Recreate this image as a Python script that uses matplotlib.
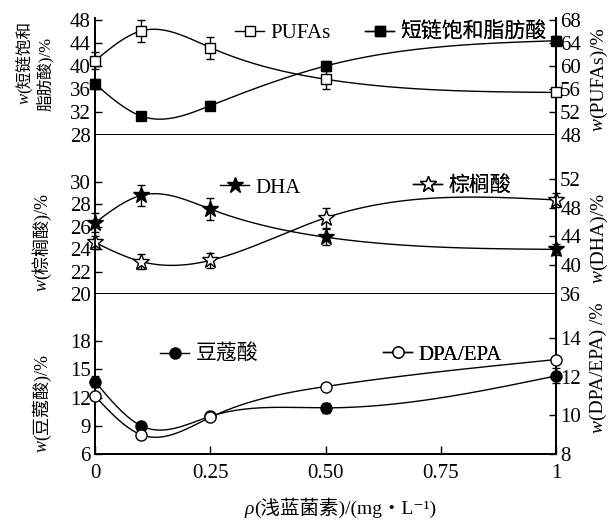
import numpy as np
import matplotlib
matplotlib.use("Agg")
import matplotlib.pyplot as plt
from matplotlib.lines import Line2D

plt.rcParams['font.family'] = ['Liberation Serif', 'Noto Sans CJK SC', 'DejaVu Serif']

# concentration of phycocyanin, mg/L
conc = [0, 0.1, 0.25, 0.5, 1]

# top panel
pufa = [60.9, 66.1, 63.2, 57.7, 55.4]
pufa_err = [1.5, 1.9, 1.9, 1.7, 0.5]
scfa = [36.9, 31.3, 33.1, 40.0, 44.4]
scfa_err = [0.9, 0.7, 0.8, 0.8, 0.8]

# middle panel
dha = [45.9, 49.7, 47.8, 43.9, 42.2]
dha_err = [1.3, 1.5, 1.5, 1.1, 0.8]
palm = [24.6, 22.9, 23.0, 26.8, 28.4]
palm_err = [0.6, 0.7, 0.7, 0.9, 0.6]

# bottom panel
myr = [13.7, 9.0, 10.0, 10.9, 14.3]
myr_err = [0.6, 0.4, 0.3, 0.5, 0.8]
dpa = [11.0, 9.0, 9.9, 11.5, 12.9]
dpa_err = [0.15, 0.15, 0.15, 0.15, 0.15]

xticks = [0, 0.25, 0.5, 0.75, 1]
xticklabels = ['0', '0.25', '0.50', '0.75', '1']

W, H = 611, 522


def spline(x, y, n=300):
    # natural cubic spline for the smooth connecting curves
    x = np.asarray(x, float)
    y = np.asarray(y, float)
    m = len(x)
    h = np.diff(x)
    A = np.zeros((m, m))
    r = np.zeros(m)
    A[0, 0] = A[-1, -1] = 1
    for i in range(1, m - 1):
        A[i, i - 1] = h[i - 1]
        A[i, i] = 2 * (h[i - 1] + h[i])
        A[i, i + 1] = h[i]
        r[i] = 3 * ((y[i + 1] - y[i]) / h[i] - (y[i] - y[i - 1]) / h[i - 1])
    c = np.linalg.solve(A, r)
    xs = np.linspace(x[0], x[-1], n)
    idx = np.clip(np.searchsorted(x, xs) - 1, 0, m - 2)
    dx = xs - x[idx]
    b = (y[idx + 1] - y[idx]) / h[idx] - h[idx] * (2 * c[idx] + c[idx + 1]) / 3
    d = (c[idx + 1] - c[idx]) / (3 * h[idx])
    return xs, y[idx] + b * dx + c[idx] * dx ** 2 + d * dx ** 3


def series(ax, y, err, marker, face, ms):
    xs, ys = spline(conc, y)
    ax.plot(xs, ys, color='black', lw=1.0, clip_on=False)
    ax.errorbar(conc, y, yerr=err, fmt='none', ecolor='black', elinewidth=1.0,
                capsize=3, capthick=1.0, clip_on=False)
    ax.plot(conc, y, ls='none', marker=marker, ms=ms, mfc=face, mec='black',
            mew=1.0, clip_on=False, zorder=5)


def legend_item(ax, label, marker, face, ms, x_px, y_px):
    h = Line2D([], [], color='black', lw=1.0, marker=marker, ms=ms, mfc=face,
               mec='black', mew=1.0)
    leg = ax.legend(handles=[h], labels=[label], loc='center left',
                    bbox_to_anchor=(x_px / W, 1 - y_px / H),
                    bbox_transform=fig.transFigure, frameon=False,
                    handlelength=1.4, handletextpad=0.3, borderpad=0,
                    borderaxespad=0, prop={'size': 15})
    ax.add_artist(leg)


def wlabel(x_px, y_px, rest, sym='w', rot=90, size=13):
    # italic symbol ending at the anchor, plain text starting from it
    x, y = x_px / W, 1 - y_px / H
    fig.text(x, y, sym, rotation=rot, rotation_mode='anchor', ha='right',
             va='baseline', style='italic', fontsize=size)
    fig.text(x, y, rest, rotation=rot, rotation_mode='anchor', ha='left',
             va='baseline', fontsize=size)


fig = plt.figure(figsize=(W / 100, H / 100), dpi=100)

left, right = 95 / W, 556 / W
panels = [(18, 135), (135, 294), (294, 454)]
axes = []
for t, b in panels:
    ax = fig.add_axes([left, 1 - b / H, right - left, (b - t) / H])
    ax2 = ax.twinx()
    for a in (ax, ax2):
        a.spines['top'].set_visible(False)
        for s in ('left', 'right', 'bottom'):
            a.spines[s].set_linewidth(1.3)
        a.set_xlim(0, 1)
        a.tick_params(axis='y', direction='in', length=5, width=1.0,
                      labelsize=15, pad=3)
    ax.tick_params(axis='x', bottom=False, labelbottom=False)
    axes.append((ax, ax2))

# top panel
a1, b1 = axes[0]
a1.set_ylim(28, 48.35)
a1.set_yticks([28, 32, 36, 40, 44, 48])
b1.set_ylim(48, 68.35)
b1.set_yticks([48, 52, 56, 60, 64, 68])
series(b1, pufa, pufa_err, 's', 'white', 7)
series(a1, scfa, scfa_err, 's', 'black', 7)

# middle panel
a2, b2 = axes[1]
a2.set_ylim(20, 34.2)
a2.set_yticks([20, 22, 24, 26, 28, 30])
b2.set_ylim(36, 58.1)
b2.set_yticks([36, 40, 44, 48, 52])
series(b2, dha, dha_err, '*', 'black', 12)
series(a2, palm, palm_err, '*', 'white', 12)

# bottom panel
a3, b3 = axes[2]
a3.set_ylim(6, 23.0)
a3.set_yticks([6, 9, 12, 15, 18])
b3.set_ylim(8, 16.3)
b3.set_yticks([8, 10, 12, 14])
series(a3, myr, myr_err, 'o', 'black', 8)
series(b3, dpa, dpa_err, 'o', 'white', 8)
a3.tick_params(axis='x', bottom=True, labelbottom=True, direction='in',
               length=6, width=1.0, labelsize=15, pad=7)
a3.set_xticks(xticks)
a3.set_xticklabels(xticklabels)

# legends
legend_item(a1, 'PUFAs', 's', 'white', 7, 235, 33)
legend_item(a1, '短链饱和脂肪酸', 's', 'black', 7, 365, 33)
legend_item(a2, 'DHA', '*', 'black', 12, 220, 188)
legend_item(a2, '棕榈酸', '*', 'white', 12, 413, 186)
legend_item(a3, '豆蔻酸', 'o', 'black', 8, 160, 355)
legend_item(a3, 'DPA/EPA', 'o', 'white', 8, 383, 355)

# axis titles
wlabel(29, 93, '(短链饱和', size=12)
fig.text(45 / W, 1 - 74 / H, '脂肪酸)/%', rotation=90, ha='center',
         va='center', fontsize=12)
wlabel(47, 279, '(棕榈酸)/%')
wlabel(47, 440, '(豆蔻酸)/%')
wlabel(603, 118, '(PUFAs)/%', size=14)
wlabel(603, 270, '(DHA)/%', size=14)
wlabel(603, 420, '(DPA/EPA) /%', size=14)
wlabel(254, 514, '(浅蓝菌素)/(mg・L⁻¹)', sym='ρ', rot=0, size=14)

fig.savefig('out.png', dpi=100)
